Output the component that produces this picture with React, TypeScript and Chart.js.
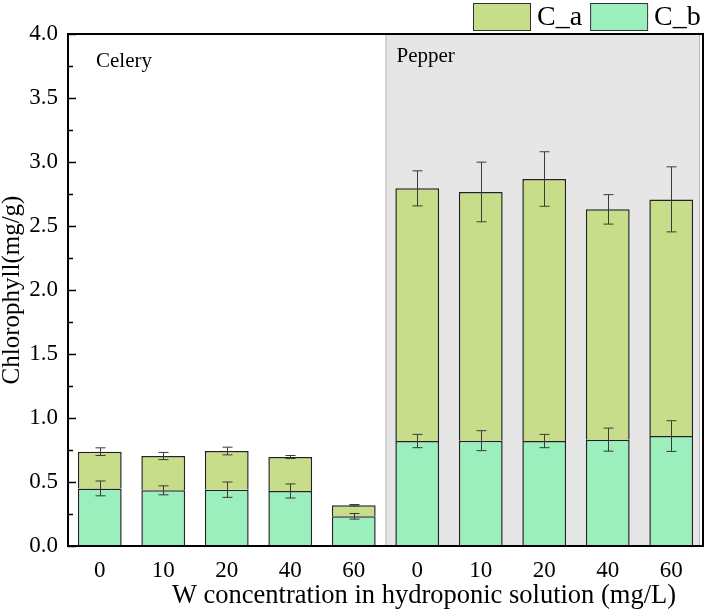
import React, { useEffect, useRef } from "react";
import { Chart, registerables } from "chart.js";

Chart.register(...registerables);

// W concentration (mg/L) per bar; the first five are celery, the last five pepper
const concentrations = ["0", "10", "20", "40", "60", "0", "10", "20", "40", "60"];
const groupNames = ["Celery", "Pepper"];
const groupSize = 5;

// Chlorophyll b (bottom segment) and chlorophyll a (stacked on top), mg/g
const chlorophyllB = [0.45, 0.435, 0.44, 0.43, 0.232, 0.82, 0.823, 0.82, 0.831, 0.859];
const chlorophyllA = [0.287, 0.268, 0.302, 0.265, 0.086, 1.974, 1.943, 2.047, 1.799, 1.849];

// Standard deviations for each segment
const errorB = [0.058, 0.035, 0.06, 0.055, 0.022, 0.052, 0.078, 0.052, 0.09, 0.12];
const errorA = [0.03, 0.028, 0.03, 0.012, 0.006, 0.137, 0.233, 0.213, 0.115, 0.254];

const yMin = 0;
const yMax = 4;
const yStep = 0.5;

const xTitle = "W concentration in hydroponic solution (mg/L)";
const yTitle = "Chlorophyll(mg/g)";

const COLOR_A = "rgb(200, 221, 138)";
const COLOR_B = "rgb(155, 239, 189)";
const SERIF = '"Liberation Serif", "Times New Roman", Times, serif';

const backdropPlugin = {
  id: "groupBackdrop",
  beforeDatasetsDraw(chart: any) {
    const { ctx, chartArea, scales } = chart;
    const x = scales.x;
    const split = (x.getPixelForValue(groupSize - 1) + x.getPixelForValue(groupSize)) / 2;
    ctx.save();
    ctx.fillStyle = "#e6e6e6";
    ctx.fillRect(split, chartArea.top, chartArea.right - 3 - split, chartArea.bottom - chartArea.top);
    ctx.strokeStyle = "#b8b8b8";
    ctx.lineWidth = 1;
    ctx.beginPath();
    ctx.moveTo(split + 0.5, chartArea.top);
    ctx.lineTo(split + 0.5, chartArea.bottom);
    ctx.moveTo(chartArea.right - 3.5, chartArea.top);
    ctx.lineTo(chartArea.right - 3.5, chartArea.bottom);
    ctx.stroke();

    ctx.fillStyle = "#000";
    ctx.font = `21px ${SERIF}`;
    ctx.textBaseline = "middle";
    ctx.textAlign = "left";
    ctx.fillText(groupNames[0], chartArea.left + 28, chartArea.top + 27);
    ctx.fillText(groupNames[1], split + 11, chartArea.top + 22);
    ctx.restore();
  },
};

const errorBarPlugin = {
  id: "errorBars",
  afterDatasetsDraw(chart: any) {
    const { ctx, scales } = chart;
    const x = scales.x;
    const y = scales.y;
    const cap = 5;
    ctx.save();
    ctx.strokeStyle = "#3a3a3a";
    ctx.lineWidth = 1;
    const drawBar = (i: number, value: number, err: number) => {
      const cx = Math.round(x.getPixelForValue(i)) + 0.5;
      const top = y.getPixelForValue(value + err);
      const bottom = y.getPixelForValue(value - err);
      ctx.beginPath();
      ctx.moveTo(cx, top);
      ctx.lineTo(cx, bottom);
      ctx.moveTo(cx - cap, top);
      ctx.lineTo(cx + cap, top);
      ctx.moveTo(cx - cap, bottom);
      ctx.lineTo(cx + cap, bottom);
      ctx.stroke();
    };
    concentrations.forEach((_, i) => {
      drawBar(i, chlorophyllB[i], errorB[i]);
      drawBar(i, chlorophyllB[i] + chlorophyllA[i], errorA[i]);
    });
    ctx.restore();
  },
};

const framePlugin = {
  id: "frameAndLegend",
  afterDraw(chart: any) {
    const { ctx, chartArea, scales } = chart;
    const y = scales.y;
    ctx.save();
    // inward ticks on the value axis, minor ticks halfway between labels
    ctx.strokeStyle = "#000";
    ctx.lineWidth = 1.5;
    ctx.beginPath();
    for (let v = yMin; v <= yMax + 1e-9; v += yStep / 2) {
      const py = Math.round(y.getPixelForValue(v)) + 0.5;
      const major = Math.abs(v / yStep - Math.round(v / yStep)) < 1e-6;
      ctx.moveTo(chartArea.left, py);
      ctx.lineTo(chartArea.left + (major ? 8 : 5), py);
    }
    ctx.stroke();

    ctx.lineWidth = 2;
    ctx.strokeRect(chartArea.left, chartArea.top, chartArea.right - chartArea.left, chartArea.bottom - chartArea.top);

    // category axis title, set a little right of the plot centre
    ctx.fillStyle = "#000";
    ctx.font = `26.5px ${SERIF}`;
    ctx.textAlign = "center";
    ctx.textBaseline = "middle";
    ctx.fillText(xTitle, 424, 596);

    // legend: C_a then C_b, top right above the frame
    const entries = [
      { label: "C_a", color: COLOR_A },
      { label: "C_b", color: COLOR_B },
    ];
    ctx.font = `28px ${SERIF}`;
    ctx.textBaseline = "middle";
    ctx.textAlign = "left";
    let lx = 473;
    const boxW = 57;
    const boxTop = 3;
    const boxH = 27;
    entries.forEach((e) => {
      ctx.fillStyle = e.color;
      ctx.fillRect(lx, boxTop, boxW, boxH);
      ctx.strokeStyle = "#333";
      ctx.lineWidth = 1;
      ctx.strokeRect(lx + 0.5, boxTop + 0.5, boxW, boxH);
      ctx.fillStyle = "#000";
      ctx.fillText(e.label, lx + boxW + 7, boxTop + boxH / 2 + 1);
      lx += boxW + 7 + ctx.measureText(e.label).width + 8;
    });
    ctx.restore();
  },
};

export default function App() {
  const canvasRef = useRef<HTMLCanvasElement | null>(null);

  useEffect(() => {
    const canvas = canvasRef.current;
    if (!canvas) return;
    const chart = new Chart(canvas, {
      type: "bar",
      data: {
        labels: concentrations,
        datasets: [
          {
            label: "C_b",
            data: chlorophyllB,
            backgroundColor: COLOR_B,
            borderColor: "#222",
            borderWidth: 1.5,
            stack: "s",
          },
          {
            label: "C_a",
            data: chlorophyllA,
            backgroundColor: COLOR_A,
            borderColor: "#222",
            borderWidth: 1.5,
            stack: "s",
          },
        ],
      },
      options: {
        animation: false,
        responsive: false,
        devicePixelRatio: 1,
        layout: { padding: { top: 34, right: 11, left: 0, bottom: 0 } },
        datasets: { bar: { categoryPercentage: 1, barPercentage: 0.69 } },
        plugins: {
          legend: { display: false },
          tooltip: { enabled: false },
        },
        scales: {
          x: {
            stacked: true,
            grid: { display: false, drawTicks: false },
            border: { display: false },
            ticks: {
              color: "#000",
              font: { family: SERIF, size: 23 },
              padding: 11,
              maxRotation: 0,
            },
            title: { display: false, text: xTitle },
            afterFit(scale: any) {
              scale.height = 66;
            },
          },
          y: {
            stacked: true,
            min: yMin,
            max: yMax,
            grid: { display: false, drawTicks: false },
            border: { display: false },
            ticks: {
              stepSize: yStep,
              color: "#000",
              font: { family: SERIF, size: 23 },
              padding: 10,
              callback: (v: any) => Number(v).toFixed(1),
            },
            title: {
              display: true,
              text: yTitle,
              color: "#000",
              font: { family: SERIF, size: 25, lineHeight: 1 },
              padding: { top: 0, bottom: 0 },
            },
            afterFit(scale: any) {
              scale.width = 68;
            },
          },
        },
      },
      plugins: [backdropPlugin, errorBarPlugin, framePlugin],
    });
    return () => chart.destroy();
  }, []);

  return (
    <div style={{ position: "fixed", left: 0, top: 0, width: 714, height: 612, background: "#fff" }}>
      <canvas ref={canvasRef} width={714} height={612} style={{ display: "block", width: 714, height: 612 }} />
    </div>
  );
}
